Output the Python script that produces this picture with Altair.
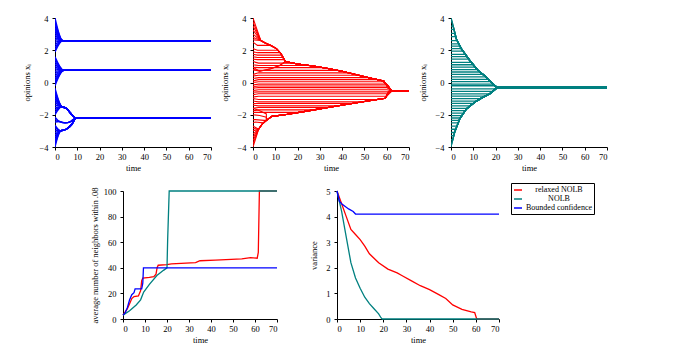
import altair as alt
import pandas as pd

FONT = "Liberation Serif"
TIME_TICKS = [0, 10, 20, 30, 40, 50, 60, 70]
OPINION_TICKS = [-4, -2, 0, 2, 4]
NEIGH_TICKS = [0, 20, 40, 60, 80, 100]
VAR_TICKS = [0, 1, 2, 3, 4, 5]

SERIES = ["relaxed NOLB", "NOLB", "Bounded confidence"]
COLORS = ["#ff0000", "#008080", "#0000ff"]

# ---------------- Panel 1: bounded confidence trajectories (blue) -------------
B_UP_X0 = [4.0, 3.8, 3.6, 3.4, 3.25, 3.1, 2.95, 2.8, 2.65, 2.5, 2.35, 2.2, 2.05, 1.9]
B_UP_PATH = [(3.5, 2.6), (70, 2.6)]
B_MID_X0 = [1.6, 1.45, 1.3, 1.15, 1.0, 0.85, 0.7, 0.55, 0.4, 0.25, 0.1, -0.05, -0.2]
B_MID_PATH = [(4.0, 0.75), (70, 0.75)]
B_LA_X0 = [-0.35, -0.5, -0.65, -0.8, -0.95, -1.1, -1.25, -1.4, -1.55, -1.7, -1.85, -2.0]
B_LA_PATH = [(3.0, -1.5), (5.0, -1.6), (7.0, -1.9), (9.5, -2.2), (70, -2.2)]
B_LB_X0 = [-2.15, -2.3, -2.45]
B_LB_PATH = [(2.0, -2.42), (4.5, -2.5), (7.0, -2.42), (9.5, -2.2), (70, -2.2)]
B_LC_X0 = [-2.65, -2.8, -2.95, -3.1, -3.25, -3.4, -3.55, -3.7, -3.85, -4.0]
B_LC_PATH = [(2.5, -3.0), (5.0, -2.9), (7.5, -2.6), (9.5, -2.2), (70, -2.2)]

# ---------------- Panel 2: relaxed NOLB trajectories (red) --------------------
R_TOP = [(14.5, 1.3), (20, 1.15), (27, 1.02), (33, 0.88), (40, 0.7), (46, 0.5),
         (52, 0.3), (58.6, 0.09), (60.1, -0.15), (62.3, -0.53), (70, -0.53)]
R_BOT = [(8.5, -2.1), (15, -1.98), (22, -1.82), (28, -1.68), (33, -1.57), (41, -1.38),
         (50, -1.18), (59.3, -0.98), (60.8, -0.63), (62.3, -0.53), (70, -0.53)]
R_LOBE = [(3.5, 2.6), (5.5, 2.45), (8, 2.3), (10.5, 2.1), (12.5, 1.8), (14.5, 1.3)]
R_LOBE_LOW = [(3.0, 0.7), (8.0, 0.85), (12.0, 1.05), (14.5, 1.3)]
R_LL = [(2.5, -2.9), (4, -2.6), (6, -2.35), (8.5, -2.1)]
R_TIP = [(62.3, -0.53), (70, -0.53)]
R_A_X0 = [4.0, 3.75, 3.5, 3.25, 3.0, 2.8, 2.65]
R_B = [(2.5, 2.3, 8.0), (2.1, 2.0, 11.2), (1.9, 1.85, 12.2), (1.75, 1.7, 12.9),
       (1.6, 1.55, 13.5), (1.45, 1.42, 14.1)]
R_LOBE_LOW_X0 = [0.95, 0.8]
R_C = [(1.3, 1.2, 18.0), (1.1, 1.05, 24.5), (0.95, 0.92, 31.5), (0.8, 0.75, 38.0),
       (0.5, 0.6, 43.0), (0.4, 0.45, 47.5), (0.25, 0.3, 52.0), (0.1, 0.18, 55.5)]
R_D = [(0.0, 0.05, 58.5), (-0.15, -0.1, 59.5), (-0.25, -0.22, 59.8), (-0.35, -0.32, 60.0),
       (-0.5, -0.45, 60.2), (-0.6, -0.58, 60.3), (-0.75, -0.7, 60.3), (-0.9, -0.85, 60.0)]
R_E = [(-1.0, -1.05, 56.0), (-1.15, -1.2, 49.0), (-1.3, -1.3, 44.5), (-1.4, -1.45, 38.0),
       (-1.6, -1.55, 33.5), (-1.75, -1.7, 27.0), (-1.85, -1.85, 21.0)]
R_F_X0 = [-4.0, -3.8, -3.6, -3.4, -3.2, -3.0, -2.85, -2.7]
R_G = [[(0, -2.3), (1, -2.3), (5, -2.35)], [(0, -2.5), (1, -2.45), (4.5, -2.5)],
       [(0, -1.6), (3, -1.75), (6, -1.95)], [(0, -2.0), (3, -2.05), (6, -2.15)]]

# ---------------- Panel 3: NOLB trajectories (teal) ---------------------------
T_TOP = [(0, 4.0), (0.15, 3.96), (2.4, 2.7), (4.6, 2.1), (8.4, 1.37), (12.1, 0.75),
         (15.9, 0.33), (18.1, 0.02), (19.6, -0.19), (20.7, -0.31), (70, -0.31)]
T_BOT = [(0, -4.0), (0.15, -3.9), (1.6, -3.1), (3.9, -2.26), (6.9, -1.64), (10.6, -1.22),
         (14.4, -0.91), (17.4, -0.7), (19.2, -0.5), (20.7, -0.31), (70, -0.31)]
T_FINAL = -0.31
T_AGENTS = [(3.8, 0.4), (3.5, 0.97), (3.3, 1.33), (3.05, 1.77), (2.85, 2.1), (2.6, 2.77),
            (2.4, 3.5), (2.25, 4.05), (2.1, 4.6), (1.95, 5.4), (1.75, 6.4), (1.6, 7.2),
            (1.45, 8.0), (1.25, 9.1), (1.1, 10.0), (0.95, 10.9), (0.8, 11.8), (0.65, 13.0),
            (0.5, 14.4), (0.35, 15.7), (0.2, 16.8), (0.05, 17.9), (-0.1, 19.0), (-0.2, 19.7),
            (-0.4, 20.0), (-0.55, 18.75), (-0.7, 17.4), (-0.85, 15.2), (-1.0, 13.3),
            (-1.15, 11.5), (-1.3, 9.9), (-1.45, 8.6), (-1.6, 7.3), (-1.75, 6.4), (-1.9, 5.6),
            (-2.05, 4.9), (-2.2, 4.2), (-2.35, 3.6), (-2.5, 3.2), (-2.7, 2.7), (-2.9, 2.15),
            (-3.1, 1.6), (-3.3, 1.24), (-3.55, 0.78), (-3.8, 0.33)]

# ---------------- Panel 4: average number of neighbours -----------------------
NB_RELAX = [(0, 3), (2, 8), (3, 12), (4, 16), (5, 17.5), (7, 18), (8, 22), (8.5, 30), (9, 32),
            (12, 32.5), (14, 33), (15, 35), (15.5, 40), (16, 42), (20, 42.5), (22, 43),
            (33, 44), (35, 45.5), (42, 46), (54, 47), (58, 48), (61, 47.5), (61.5, 52),
            (62, 100), (70, 100)]
NB_NOLB = [(0, 3), (3, 6.5), (6, 11), (8, 15), (9.4, 21), (12, 27), (15.4, 34), (18.4, 38),
           (20, 40), (20.3, 62), (21, 100), (70, 100)]
NB_BC = [(0, 3), (1, 5), (2, 9), (3, 15), (4, 19), (5, 20.5), (5.5, 23.5), (8.5, 23.5),
         (9, 28), (9.3, 40), (70, 40)]

# ---------------- Panel 5: variance --------------------------------------------
VAR_RELAX = [(0, 5), (2, 4.5), (4, 4.0), (6, 3.5), (8, 3.3), (10, 3.1), (12, 2.85), (14, 2.55),
             (18, 2.2), (22, 1.95), (26, 1.8), (28, 1.7), (32, 1.5), (36, 1.3), (40, 1.15),
             (44, 0.95), (47, 0.8), (50, 0.55), (54, 0.38), (58, 0.28), (59.5, 0.25),
             (60.3, 0.02), (61, 0), (70, 0)]
VAR_NOLB = [(0, 5), (2, 4.2), (4, 3.2), (6, 2.2), (8, 1.6), (10, 1.2), (12, 0.85), (14, 0.6),
            (16, 0.4), (18, 0.2), (19, 0.05), (19.5, 0), (70, 0)]
VAR_BC = [(0, 5), (1, 4.6), (2, 4.5), (5, 4.3), (7, 4.2), (8, 4.1), (70, 4.1)]


def add_path(rows, agent, pts):
    for i, (t, x) in enumerate(pts):
        rows.append({"agent": agent, "t": t, "x": x, "ord": i})


def after(path, t0):
    return [p for p in path if p[0] > t0]


# build blue
blue_rows = []
k = 0
for x0s, path in [(B_UP_X0, B_UP_PATH), (B_MID_X0, B_MID_PATH), (B_LA_X0, B_LA_PATH),
                  (B_LB_X0, B_LB_PATH), (B_LC_X0, B_LC_PATH)]:
    for x0 in x0s:
        add_path(blue_rows, k, [(0, x0)] + path)
        k += 1

# build red
red_rows = []
k = 0
for x0 in R_A_X0:
    add_path(red_rows, k, [(0, x0)] + R_LOBE + after(R_TOP, 14.5)); k += 1
for x0, xh, th in R_B:
    add_path(red_rows, k, [(0, x0), (2, xh), (th, xh)] + after(R_LOBE, th) + after(R_TOP, 14.5)); k += 1
for x0 in R_LOBE_LOW_X0:
    add_path(red_rows, k, [(0, x0)] + R_LOBE_LOW + after(R_TOP, 14.5)); k += 1
for x0, xh, th in R_C:
    add_path(red_rows, k, [(0, x0), (2.5, xh), (th, xh)] + after(R_TOP, th)); k += 1
for x0, xh, th in R_D:
    add_path(red_rows, k, [(0, x0), (2.5, xh), (th, xh)] + R_TIP); k += 1
for x0, xh, th in R_E:
    add_path(red_rows, k, [(0, x0), (2.5, xh), (th, xh)] + after(R_BOT, th)); k += 1
for x0 in R_F_X0:
    add_path(red_rows, k, [(0, x0)] + R_LL + after(R_BOT, 8.5)); k += 1
for pts in R_G:
    add_path(red_rows, k, pts + R_LL[2:] + after(R_BOT, 8.5)); k += 1

# build teal
teal_rows = []
k = 0
add_path(teal_rows, k, T_TOP); k += 1
add_path(teal_rows, k, T_BOT); k += 1
for x0, th in T_AGENTS:
    bound = T_TOP if x0 > T_FINAL else T_BOT
    add_path(teal_rows, k, [(0, x0), (th, x0)] + after(bound, th)); k += 1

W_TOP, H_TOP = 156, 129


def opinion_panel(rows, color, interp, sw):
    return alt.Chart(pd.DataFrame(rows)).mark_line(
        color=color, strokeWidth=sw, interpolate=interp, clip=True
    ).encode(
        x=alt.X("t:Q", scale=alt.Scale(domain=[0, 70], nice=False),
                axis=alt.Axis(values=TIME_TICKS, title="time")),
        y=alt.Y("x:Q", scale=alt.Scale(domain=[-4, 4], nice=False),
                axis=alt.Axis(values=OPINION_TICKS, title="opinions xᵢ")),
        detail="agent:N",
        order="ord:Q",
    ).properties(width=W_TOP, height=H_TOP)


p1 = opinion_panel(blue_rows, "#0000ff", "monotone", 1.4)
p2 = opinion_panel(red_rows, "#ff0000", "linear", 1.1)
p3 = opinion_panel(teal_rows, "#008080", "linear", 1.3)

top = alt.HConcatChart(hconcat=[p1, p2, p3], spacing=42, bounds="flush")


def series_rows(lists, field):
    rows = []
    for name, pts in zip(SERIES, lists):
        for i, (t, v) in enumerate(pts):
            rows.append({"series": name, "t": t, field: v, "ord": i})
    return pd.DataFrame(rows)


color_scale = alt.Scale(domain=SERIES, range=COLORS)

nb_df = series_rows([NB_RELAX, NB_NOLB, NB_BC], "v")
var_df = series_rows([VAR_RELAX, VAR_NOLB, VAR_BC], "v")

p4 = alt.Chart(nb_df).mark_line(strokeWidth=1.3).encode(
    x=alt.X("t:Q", scale=alt.Scale(domain=[0, 70], nice=False),
            axis=alt.Axis(values=TIME_TICKS, title="time")),
    y=alt.Y("v:Q", scale=alt.Scale(domain=[0, 100], nice=False),
            axis=alt.Axis(values=NEIGH_TICKS, title="average number of neighbors within .08",
                          titlePadding=4)),
    color=alt.Color("series:N", scale=color_scale, legend=None),
    order="ord:Q",
).properties(width=154, height=128)

p5 = alt.Chart(var_df).mark_line(strokeWidth=1.3).encode(
    x=alt.X("t:Q", scale=alt.Scale(domain=[0, 70], nice=False),
            axis=alt.Axis(values=TIME_TICKS, title="time")),
    y=alt.Y("v:Q", scale=alt.Scale(domain=[0, 5], nice=False),
            axis=alt.Axis(values=VAR_TICKS, title="variance")),
    color=alt.Color("series:N", scale=color_scale,
                    legend=alt.Legend(orient="none", legendX=174, legendY=-8, title=None,
                                      strokeColor="black", fillColor="white", padding=2,
                                      symbolType="stroke", symbolStrokeWidth=1.5,
                                      symbolSize=64, labelFont=FONT, labelFontSize=8,
                                      labelAlign="center", labelOffset=36,
                                      rowPadding=0, cornerRadius=0)),
    order="ord:Q",
).properties(width=162, height=128)

spacer = alt.Chart(pd.DataFrame({"a": [0]})).mark_point(opacity=0).encode(
    x=alt.X("a:Q", axis=None), y=alt.Y("a:Q", axis=None)
).properties(width=8, height=128)

bottom = alt.HConcatChart(hconcat=[spacer, p4, p5], spacing=60, bounds="flush").resolve_scale(
    color="independent"
)

chart = alt.VConcatChart(vconcat=[top, bottom], spacing=10).resolve_scale(
    color="independent"
).configure(
    padding={"left": 14, "top": 6, "right": 5, "bottom": 5}
).configure_view(stroke=None).configure_axis(
    labelFont=FONT, labelFontSize=8.5, titleFont=FONT, titleFontSize=8.5,
    titleFontWeight="normal", domainColor="black", tickColor="black", tickSize=3,
    labelPadding=2, titlePadding=3, grid=False, labelColor="black", titleColor="black",
    domainWidth=1,
).configure_axisY(labelPadding=4, titlePadding=7)

chart.save("out.html", embed_options={"renderer": "svg", "actions": False})
